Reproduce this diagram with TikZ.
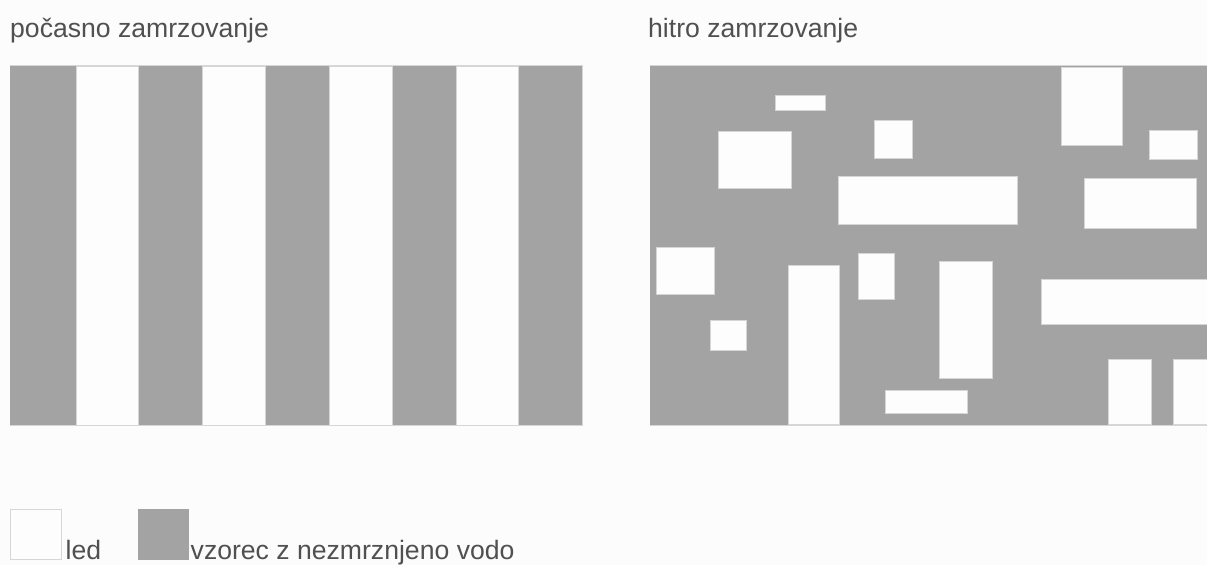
\documentclass[tikz,border=0pt]{standalone}
\usepackage{fontspec}
\setmainfont{Liberation Sans}
\definecolor{bgc}{HTML}{FCFCFC}
\definecolor{water}{HTML}{A3A3A3}
\definecolor{ice}{HTML}{FDFDFD}
\definecolor{edge}{HTML}{D6D6D6}
\definecolor{txt}{HTML}{505050}
\tikzset{
  icebox/.style={fill=ice,draw=edge,line width=0.8pt},
  waterbox/.style={fill=water,draw=none},
  label/.style={anchor=base west,inner sep=0pt,text=txt,font=\fontsize{26.6}{30}\selectfont}
}
\begin{document}
\begin{tikzpicture}[x=1pt,y=-1pt]
\fill[bgc] (0,0) rectangle (1207,565);
\useasboundingbox (0,0) rectangle (1207,565);
% titles
\node[label] (t1) at (10,37.5) {počasno zamrzovanje};
\node[label] (t2) at (648,37.5) {hitro zamrzovanje};
% left panel: stripes
\draw[edge,line width=0.8pt] (10,65.5) rectangle (582,425);
\fill[water] (10,66) rectangle (582,425);
\foreach \a/\b in {76/138,202/265,329/392,456/518}{
  \draw[icebox] (\a,66) rectangle (\b,425);
}
% right panel
\draw[edge,line width=0.8pt] (650,65.5) -- (1207,65.5);
\draw[edge,line width=0.8pt] (650,425) -- (1207,425);
\draw[edge,line width=0.8pt] (650,65.5) -- (650,425);
\fill[water] (650,66) rectangle (1207,425);
\foreach \xa/\ya/\xb/\yb in {
  775/95.5/825/110.5,
  718/131/791/188.5,
  874/120/912/158,
  838/176/1017/224,
  1061/67/1122/145,
  1149/130/1197.5/159,
  1084/178/1196/228,
  656/247/714/294,
  710/320/746/350.5,
  788/265/839/424,
  858.5/253.5/894/299.5,
  939/261/992.5/378.5,
  885.5/390/967/413,
  1041.5/279/1210/324,
  1108/359.5/1151.5/424,
  1173.5/359.5/1210/424}{
  \draw[icebox] (\xa,\ya) rectangle (\xb,\yb);
}
% legend
\draw[icebox] (10,509) rectangle (61,559.5);
\node[label] (l1) at (65.5,559.5) {led};
\fill[water] (138,509) rectangle (188.5,559.5);
\node[label] (l2) at (190.5,559.5) {vzorec z nezmrznjeno vodo};
\end{tikzpicture}
\end{document}
